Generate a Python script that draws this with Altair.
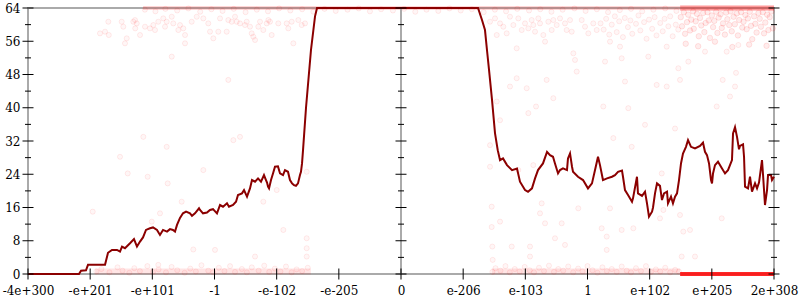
import json
import altair as alt
import pandas as pd

# ---------------- data ----------------
x_labels = ["-4e+300", "-e+201", "-e+101", "-1", "-e-102", "-e-205", "0",
            "e-206", "e-103", "1", "e+102", "e+205", "2e+308"]
x_tick_values = list(range(len(x_labels)))
y_major = [0, 8, 16, 24, 32, 40, 48, 56, 64]
y_minor = [4, 12, 20, 28, 36, 44, 52, 60]
axis_columns = [0, 6, 12]          # where the three vertical axes sit
middle_axis = [6]

# averaged error curve (x in tick units, y in bits)
line_u = [0.000, 0.820, 0.853, 0.933, 0.965, 1.239, 1.287, 1.351, 1.432, 1.480,
          1.512, 1.560, 1.641, 1.705, 1.753, 1.802, 1.850, 1.898, 1.962, 2.011,
          2.075, 2.123, 2.172, 2.236, 2.284, 2.332, 2.365, 2.397, 2.445, 2.493,
          2.542, 2.606, 2.638, 2.686, 2.751, 2.767, 2.815, 2.879, 2.928, 2.976,
          3.040, 3.089, 3.137, 3.201, 3.233, 3.298, 3.346, 3.378, 3.442, 3.475,
          3.523, 3.571, 3.603, 3.652, 3.700, 3.748, 3.796, 3.828, 3.845, 3.861,
          3.877, 3.909, 3.941, 3.973, 4.021, 4.054, 4.102, 4.134, 4.182, 4.214,
          4.247, 4.279, 4.311, 4.343, 4.375, 4.391, 4.408, 4.424, 4.472, 4.552,
          4.617, 4.649, 7.239, 7.303, 7.351, 7.383, 7.416, 7.464, 7.512, 7.556,
          7.593, 7.641, 7.705, 7.786, 7.866, 7.914, 7.995, 8.043, 8.107, 8.156,
          8.204, 8.284, 8.349, 8.397, 8.445, 8.477, 8.526, 8.558, 8.606, 8.670,
          8.686, 8.719, 8.751, 8.767, 8.847, 8.928, 9.008, 9.072, 9.121, 9.169,
          9.201, 9.249, 9.314, 9.394, 9.442, 9.491, 9.555, 9.571, 9.603, 9.652,
          9.716, 9.732, 9.796, 9.812, 9.877, 9.925, 9.957, 9.989, 10.038, 10.054,
          10.086, 10.118, 10.166, 10.198, 10.231, 10.279, 10.295, 10.343, 10.375, 10.408,
          10.440, 10.472, 10.504, 10.536, 10.584, 10.617, 10.665, 10.729, 10.810, 10.858,
          10.890, 10.922, 10.955, 10.987, 11.003, 11.019, 11.051, 11.099, 11.164, 11.212,
          11.260, 11.324, 11.341, 11.373, 11.405, 11.437, 11.453, 11.502, 11.518, 11.534,
          11.582, 11.614, 11.646, 11.695, 11.727, 11.759, 11.807, 11.823, 11.855, 11.888,
          11.904, 11.952, 11.968, 12.000]
line_v = [0.0, 0.0, 0.8, 0.9, 2.2, 2.2, 5.1, 5.8, 5.8, 5.4,
          6.6, 6.2, 7.4, 8.4, 6.6, 7.8, 8.8, 10.6, 11.0, 11.2,
          10.6, 9.4, 10.6, 10.2, 10.8, 10.6, 10.2, 11.8, 13.5, 14.6,
          15.0, 14.6, 14.0, 14.6, 15.8, 15.4, 14.6, 14.8, 15.4, 15.6,
          14.6, 16.6, 16.2, 17.0, 16.2, 16.6, 17.4, 19.0, 19.4, 20.2,
          18.6, 20.6, 22.6, 22.2, 23.0, 22.2, 23.8, 22.6, 22.0, 21.0,
          20.6, 22.6, 24.2, 25.8, 25.9, 24.2, 23.8, 25.0, 24.6, 22.6,
          21.8, 21.4, 21.2, 21.8, 23.8, 24.6, 26.6, 29.8, 40.0, 53.9,
          62.0, 64.0, 64.0, 61.1, 58.7, 53.9, 49.1, 41.9, 33.9, 29.8,
          27.4, 27.8, 26.2, 25.0, 25.4, 22.2, 20.2, 19.8, 20.6, 23.0,
          25.0, 26.6, 29.4, 28.6, 28.2, 26.6, 24.2, 25.0, 25.4, 25.0,
          27.8, 29.0, 25.8, 24.6, 23.4, 22.6, 20.6, 21.8, 25.0, 28.2,
          26.2, 22.6, 23.0, 23.4, 23.8, 24.6, 24.9, 23.4, 20.2, 19.0,
          17.4, 18.2, 23.4, 19.4, 18.8, 19.8, 17.0, 13.8, 15.0, 16.0,
          19.4, 21.8, 21.2, 17.8, 19.4, 19.8, 17.0, 18.6, 17.0, 18.6,
          19.4, 22.6, 26.6, 29.0, 30.6, 32.2, 30.6, 30.2, 30.8, 31.6,
          29.4, 28.6, 26.6, 22.6, 21.8, 24.2, 26.2, 27.0, 25.4, 24.2,
          25.0, 27.4, 33.8, 35.3, 33.0, 30.0, 30.8, 31.2, 28.2, 21.0,
          20.6, 23.4, 19.8, 21.8, 20.6, 22.0, 27.4, 24.0, 16.6, 20.2,
          23.8, 23.8, 22.6, 23.4]

# individual sample errors (sparse cloud)
cloud_u = [1.292, 1.158, 1.239, 1.300, 1.507, 1.533, 1.560, 1.588, 1.694, 1.721,
           1.749, 1.725, 1.802, 1.882, 1.962, 2.016, 2.043, 2.096, 2.176, 2.204,
           2.231, 2.312, 2.337, 2.418, 2.445, 2.498, 2.526, 2.526, 2.633, 2.714,
           2.312, 1.855, 2.231,
           2.820, 2.900, 2.928, 2.981, 3.061, 3.089, 3.196, 3.222, 3.277, 3.330,
           3.357, 3.410, 3.491, 3.518, 3.571, 3.598, 3.624, 3.652, 3.705, 3.732,
           3.785, 3.840, 3.866, 3.893, 3.920, 4.026, 4.161, 4.187, 4.242, 4.268,
           4.348, 4.403, 4.456, 3.222, 3.303, 3.410,
           2.820, 3.008, 3.785, 4.001, 4.107, 4.483, 4.483, 4.483, 4.483, 3.652,
           1.480, 1.604, 1.925, 2.247, 2.472, 1.041, 1.990, 2.123, 2.659, 2.096,
           7.432, 7.512, 7.540, 7.593, 7.646, 7.700, 7.753, 7.807, 7.861, 7.887,
           7.942, 7.995, 8.048, 8.102, 8.128, 8.156, 8.209, 8.236, 8.289, 8.317,
           8.370, 8.424, 8.450, 8.505, 8.558, 8.638, 8.665, 8.719, 8.746, 8.772,
           8.799, 8.826, 8.907, 8.960, 9.013, 9.093, 9.148, 7.861, 7.753, 8.022,
           8.343, 8.450, 8.172, 8.048, 7.540, 7.593, 7.432,
           7.432, 7.887, 8.128, 8.263, 8.236, 8.317, 8.585, 8.852, 8.477, 8.638,
           8.075, 8.075, 7.781, 7.459, 7.459, 7.593, 7.469, 7.475,
           9.282, 9.550, 9.603, 9.254, 9.656, 9.925, 10.408, 9.415, 9.711, 10.113,
           10.274, 10.461, 10.488, 10.622, 10.890, 11.078, 11.175, 11.292, 11.373, 11.389,
           11.239, 9.978, 10.274, 9.523, 9.362, 11.426,
           9.228, 9.362, 9.309, 9.550, 9.737, 10.194, 10.220, 10.488, 10.541, 10.649,
           10.515, 10.729, 11.159, 9.309, 10.166,
           9.21, 9.26, 9.30, 9.35, 9.39, 9.44, 9.47, 9.51, 9.57, 9.60,
           9.65, 9.69, 9.72, 9.78, 9.82, 9.85, 9.91, 9.95, 9.99, 10.04,
           10.08, 10.11, 10.17, 10.21, 10.24, 10.30, 10.33, 10.37, 10.42, 10.46]
cloud_v = [60.7, 57.9, 58.3, 57.5, 60.7, 59.5, 55.5, 56.7, 60.7, 61.1,
           60.3, 59.1, 57.5, 59.5, 59.1, 59.9, 58.7, 60.7, 61.5, 59.5,
           60.7, 61.9, 60.3, 58.7, 59.9, 59.1, 57.5, 55.5, 60.7, 61.9,
           52.3, 33.0, 30.6,
           61.5, 60.3, 58.3, 56.7, 58.3, 61.5, 58.3, 61.1, 60.7, 61.9,
           60.7, 60.3, 59.9, 60.7, 59.5, 57.9, 57.1, 56.3, 59.5, 60.7,
           58.7, 60.3, 61.1, 60.7, 57.5, 60.3, 60.3, 59.1, 60.7, 55.5,
           61.1, 59.9, 60.3, 46.7, 32.2, 33.0,
           25.0, 5.8, 17.4, 20.2, 10.6, 24.6, 8.6, 6.2, 4.2, 4.2,
           28.2, 24.2, 23.4, 21.8, 17.4, 15.0, 12.6, 14.6, 5.9, 2.2,
           60.7, 61.5, 57.5, 60.3, 59.5, 57.9, 61.9, 59.9, 54.3, 61.5,
           58.7, 60.3, 59.1, 61.1, 59.9, 58.3, 61.5, 60.3, 57.5, 55.9,
           60.7, 58.7, 61.1, 59.9, 61.5, 60.3, 58.7, 61.1, 58.3, 53.1,
           51.5, 48.7, 61.1, 59.5, 57.9, 60.3, 58.7, 47.1, 45.1, 44.7,
           46.7, 42.3, 40.3, 38.7, 41.5, 37.0, 31.0,
           25.8, 25.0, 26.2, 17.0, 14.6, 12.2, 12.2, 15.8, 8.6, 7.0,
           6.6, 4.2, 6.6, 16.2, 11.3, 12.6, 6.6, 3.4,
           51.1, 51.9, 46.3, 40.3, 39.9, 35.9, 35.0, 32.7, 30.6, 45.5,
           45.1, 49.5, 46.7, 51.1, 53.5, 40.3, 46.7, 42.7, 45.1, 48.4,
           53.5, 52.3, 54.7, 54.7, 55.9, 55.1,
           11.0, 15.8, 9.0, 10.6, 11.0, 24.2, 15.4, 14.2, 10.2, 10.6,
           4.2, 4.2, 13.4, 5.8, 13.4,
           60.3, 58.8, 61.4, 57.6, 60.0, 62.0, 58.2, 60.8, 57.0, 61.6,
           59.4, 61.0, 57.8, 60.2, 62.2, 58.6, 60.6, 56.6, 61.2, 59.0,
           61.8, 57.4, 60.4, 58.4, 61.4, 59.6, 62.0, 57.2, 60.0, 58.8]

# dense cloud of samples near the top at the far right
dense_u = [10.50, 10.52, 10.55, 10.57, 10.60, 10.62, 10.65, 10.67, 10.70, 10.71,
           10.74, 10.76, 10.79, 10.81, 10.83, 10.86, 10.88, 10.90, 10.93, 10.95,
           10.97, 11.00, 11.02, 11.04, 11.07, 11.09, 11.11, 11.14, 11.16, 11.18,
           11.21, 11.23, 11.25, 11.28, 11.30, 11.32, 11.35, 11.37, 11.40, 11.42,
           11.44, 11.47, 11.49, 11.51, 11.54, 11.56, 11.58, 11.61, 11.63, 11.65,
           11.68, 11.70, 11.72, 11.75, 11.77, 11.79, 11.82, 11.84, 11.86, 11.89,
           11.91, 11.93, 11.96, 11.98, 10.58, 10.78, 11.05, 11.33, 11.60, 11.88]
dense_v = [61.8, 59.6, 63.0, 57.8, 60.6, 62.4, 58.6, 61.2, 63.2, 59.0,
           60.8, 62.6, 57.2, 61.6, 59.8, 62.8, 58.2, 60.4, 63.0, 61.0,
           56.8, 62.2, 59.4, 60.9, 63.1, 58.0, 61.7, 62.5, 59.2, 60.3,
           57.6, 62.9, 61.3, 59.9, 63.2, 58.4, 61.9, 60.1, 62.7, 57.4,
           61.1, 63.0, 59.3, 60.7, 62.3, 58.9, 61.5, 63.1, 59.7, 56.5,
           62.0, 60.2, 58.1, 62.8, 61.4, 59.5, 63.0, 57.9, 60.5, 62.4,
           58.7, 61.8, 63.2, 59.1, 55.4, 54.8, 55.9, 54.6, 55.2, 54.9]

# samples sitting on the top (64) and bottom (0) rows
top_row_u = [1.88, 2.05, 2.21, 2.40, 2.58, 2.77, 2.95, 3.13, 3.31, 3.50,
             3.68, 3.86, 4.04, 4.22, 4.41, 4.59, 4.77, 4.95, 5.14, 5.32,
             5.50, 5.68, 5.87, 6.05, 6.23, 6.41, 6.60, 6.78, 6.96, 7.14,
             7.33, 7.51, 7.69, 7.87, 8.06, 8.24, 8.42, 8.60, 8.79, 8.97,
             9.15, 9.33, 9.52, 9.70, 9.88, 10.06, 10.25, 10.43]
top_row_v = [63.6, 63.2, 63.8, 63.4, 63.9, 63.1, 63.7, 63.3, 63.8, 63.0,
             63.6, 63.2, 63.9, 63.4, 63.7, 63.1, 63.8, 63.3, 63.6, 63.9,
             63.2, 63.7, 63.4, 63.8, 63.1, 63.6, 63.3, 63.9, 63.4, 63.7,
             63.0, 63.6, 63.2, 63.8, 63.4, 63.7, 63.1, 63.6, 63.9, 63.3,
             63.7, 63.0, 63.5, 63.8, 63.2, 63.6, 63.9, 63.3]
bottom_row_u = [1.10, 1.18, 1.31, 1.44, 1.52, 1.63, 1.71, 1.80, 1.92, 2.01,
                2.10, 2.22, 2.31, 2.40, 2.52, 2.61, 2.70, 2.79, 2.90, 2.98,
                3.07, 3.16, 3.25, 3.33, 3.44, 3.52, 3.60, 3.71, 3.80, 3.88,
                3.97, 4.06, 4.15, 4.24, 4.32, 4.41, 4.50,
                7.47, 7.52, 7.60, 7.68, 7.75, 7.83, 7.91, 7.99, 8.07, 8.14,
                8.22, 8.30, 8.38, 8.46, 8.53, 8.61, 8.69, 8.77, 8.85, 8.92,
                9.00, 9.08, 9.16, 9.24, 9.31, 9.39, 9.47, 9.55, 9.63, 9.70,
                9.78, 9.86, 9.94, 10.02, 10.10, 10.17, 10.25, 10.33, 10.41, 10.47]
bottom_row_v = [0.6, 1.2, 0.4, 1.6, 0.8, 0.3, 1.4, 0.7, 1.9, 0.5,
                1.1, 0.4, 1.7, 0.9, 0.3, 1.3, 0.6, 2.1, 0.8, 0.4,
                1.5, 0.7, 1.9, 0.5, 1.2, 0.4, 1.6, 0.8, 2.0, 0.5,
                1.3, 0.6, 1.8, 0.4, 1.1, 0.7, 1.5,
                0.5, 1.4, 0.8, 1.9, 0.4, 1.2, 0.6, 1.7, 0.9, 0.4,
                1.5, 0.7, 2.0, 0.5, 1.2, 0.8, 1.8, 0.4, 1.3, 0.6,
                1.9, 0.9, 0.3, 1.6, 0.7, 1.2, 0.5, 1.8, 0.8, 0.4,
                1.4, 0.7, 1.9, 0.5, 1.1, 0.6, 1.5, 0.4, 1.0, 0.6]

# stretches where overlapping samples form solid rows: start, end, error
top_band_light = [[1.85, 10.49, 64]]
top_band_dense = [[10.49, 12.0, 64]]
bottom_band_light = [[1.08, 4.55, 0.6], [7.46, 10.49, 0.6]]
bottom_band_dense = [[10.49, 12.0, 0]]

# ---------------- chart ----------------
FONT = "DejaVu Serif"
xscale = alt.Scale(domain=[0, 12], nice=False, zero=False)
yscale = alt.Scale(domain=[0, 64], nice=False, zero=False)
label_expr = json.dumps(x_labels).replace('"', "'") + "[datum.value]"
xaxis = alt.Axis(values=x_tick_values, labelExpr=label_expr, ticks=False, tickSize=0,
                 domain=False, grid=False, labelPadding=11, labelFont=FONT,
                 labelFontSize=12, labelColor="#000", labelFlush=False,
                 labelOverlap=False, labelBound=False, title=None)
yaxis = alt.Axis(values=y_major, ticks=False, tickSize=0, domain=False, grid=False,
                 labelPadding=8, labelFont=FONT, labelFontSize=12, labelColor="#000",
                 labelOverlap=False, labelFlush=False, title=None)


def X(f):
    return alt.X(f, type="quantitative", scale=xscale, axis=xaxis)


def Y(f):
    return alt.Y(f, type="quantitative", scale=yscale, axis=yaxis)


def pts(us, vs):
    return pd.DataFrame({"u": us, "v": vs})


def bands(rows):
    return pd.DataFrame(rows, columns=["s", "e", "v"])


def band_layer(rows, color, width, opacity):
    return alt.Chart(bands(rows)).mark_rule(
        color=color, strokeWidth=width, opacity=opacity
    ).encode(x=X("s"), x2=alt.X2("e"), y=Y("v"))


samples = pd.concat([pts(cloud_u, cloud_v), pts(top_row_u, top_row_v),
                     pts(bottom_row_u, bottom_row_v)])

circle_layer = alt.Chart(samples).mark_circle(
    size=26, fill="#ff0000", stroke="#ff0000", fillOpacity=0.035,
    strokeOpacity=0.08, strokeWidth=1, opacity=1
).encode(x=X("u"), y=Y("v"))

dense_layer = alt.Chart(pts(dense_u, dense_v)).mark_circle(
    size=30, fill="#ff0000", stroke="#ff0000", fillOpacity=0.07,
    strokeOpacity=0.1, strokeWidth=1, opacity=1
).encode(x=X("u"), y=Y("v"))

middle_rule = alt.Chart(pd.DataFrame({"u": middle_axis})).mark_rule(
    color="#aaaaaa", strokeWidth=2
).encode(x=X("u"))

line_layer = alt.Chart(pts(line_u, line_v)).mark_line(
    color="#8b0000", strokeWidth=2, interpolate="linear"
).encode(x=X("u"), y=Y("v"), order="u:Q")

major_grid = pd.DataFrame([(c, v) for c in axis_columns for v in y_major], columns=["u", "v"])
minor_grid = pd.DataFrame([(c, v) for c in axis_columns for v in y_minor], columns=["u", "v"])

y_major_ticks = alt.Chart(major_grid).mark_tick(
    orient="horizontal", size=11, thickness=1, color="#000", opacity=1
).encode(x=X("u"), y=Y("v"))
y_minor_ticks = alt.Chart(minor_grid).mark_tick(
    orient="horizontal", size=6, thickness=1, color="#000", opacity=1
).encode(x=X("u"), y=Y("v"))
x_ticks_layer = alt.Chart(pd.DataFrame({"u": x_tick_values, "v": [0] * len(x_tick_values)})).mark_tick(
    orient="vertical", size=11, thickness=1, color="#000", opacity=1
).encode(x=X("u"), y=Y("v"))

chart = alt.layer(
    band_layer(top_band_light, "#ff0000", 4, 0.16),
    band_layer(top_band_dense, "#ff0000", 5, 0.4),
    band_layer(bottom_band_light, "#ff0000", 6, 0.1),
    circle_layer,
    dense_layer,
    band_layer(bottom_band_dense, "#ff1010", 4, 0.9),
    middle_rule,
    line_layer,
    y_major_ticks,
    y_minor_ticks,
    x_ticks_layer,
).properties(
    width=746, height=266,
    padding={"left": 28, "top": 8, "right": 26, "bottom": 26},
    autosize="none", background="white",
).configure_view(stroke="#aaaaaa", strokeWidth=2)

chart.save("out.html", embed_options={"renderer": "svg", "actions": False})
